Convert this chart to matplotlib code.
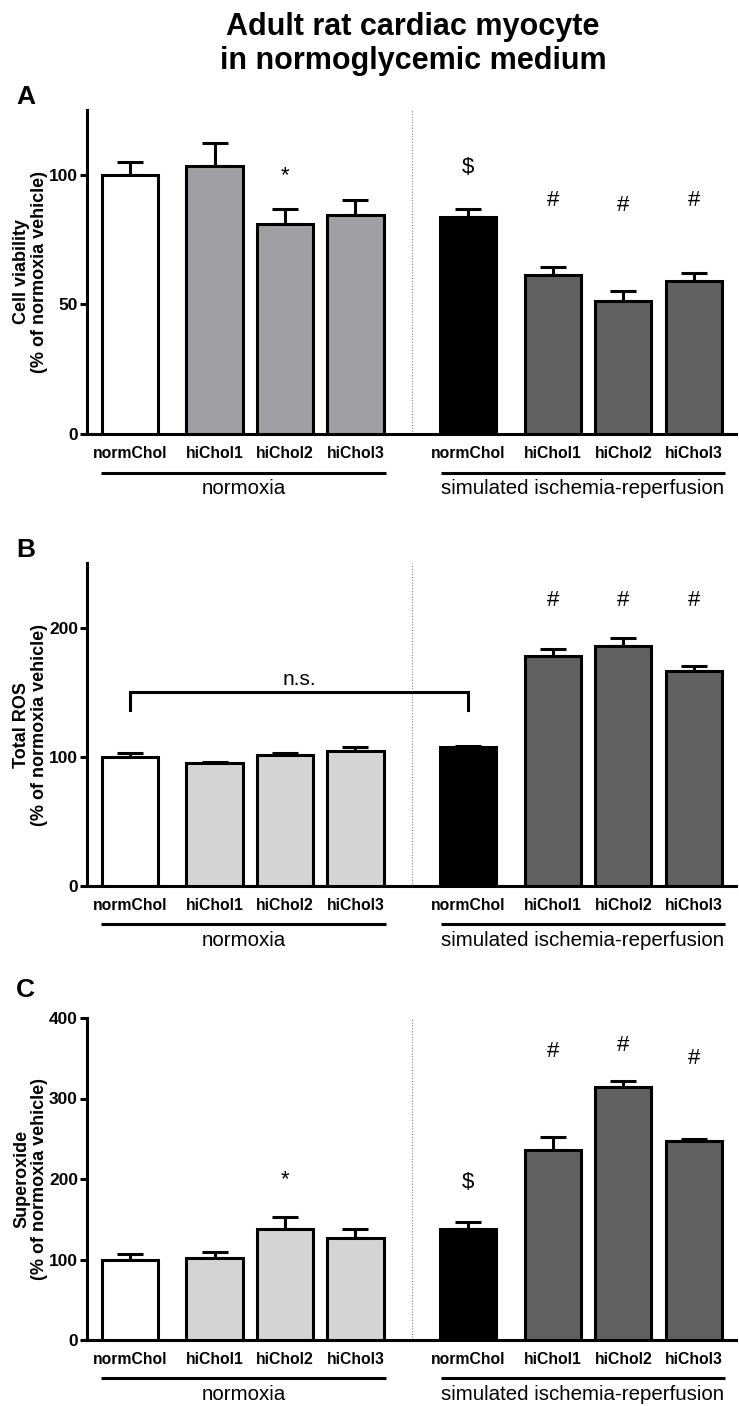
import matplotlib
matplotlib.use("Agg")
import matplotlib.pyplot as plt
import matplotlib.transforms as mtransforms

plt.rcParams['font.family'] = ['Liberation Sans', 'DejaVu Sans']

# ---------------- data ----------------
categories = ['normChol', 'hiChol1', 'hiChol2', 'hiChol3',
              'normChol', 'hiChol1', 'hiChol2', 'hiChol3']
groups = ['normoxia', 'simulated ischemia-reperfusion']

viability = [100, 103.5, 81, 84.5, 83.7, 61.2, 51.2, 59]
viability_err = [5, 8.9, 5.8, 5.9, 3.1, 3.1, 3.8, 3.0]

ros = [100, 95.3, 101.5, 104.6, 107.2, 177.8, 185.5, 166.7]
ros_err = [3, 0.4, 1.5, 3.1, 0.8, 6.0, 6.5, 3.8]

superoxide = [100, 102, 138, 127, 138, 236, 314, 247]
superoxide_err = [6.6, 7, 15, 11, 8.6, 16, 8, 3]

annot_A = [(2, '*', 99.6), (4, '$', 102.7), (5, '#', 90), (6, '#', 88), (7, '#', 90)]
annot_B = [(5, '#', 221), (6, '#', 221), (7, '#', 221)]
annot_C = [(2, '*', 199), (4, '$', 196), (5, '#', 358), (6, '#', 366), (7, '#', 350)]

# ---------------- layout/style ----------------
positions = [0, 1.2, 2.2, 3.2, 4.8, 6.0, 7.0, 8.0]
bar_w = 0.8

W, H = 739, 1406
fig = plt.figure(figsize=(W / 100, H / 100), dpi=100)

def fig_rect(left_px, right_px, top_px, bottom_px):
    return [left_px / W, 1 - bottom_px / H, (right_px - left_px) / W, (bottom_px - top_px) / H]

panels = [
    dict(letter='A', rect=fig_rect(87, 736, 110, 434), vals=viability, err=viability_err,
         ylim=(0, 125), yticks=[0, 50, 100], ylabel='Cell viability\n(% of normoxia vehicle)',
         colors=['white', '#a0a0a4', '#a0a0a4', '#a0a0a4', 'black', '#606060', '#606060', '#606060'],
         annot=annot_A, letter_y=97),
    dict(letter='B', rect=fig_rect(87, 736, 563, 886), vals=ros, err=ros_err,
         ylim=(0, 250), yticks=[0, 100, 200], ylabel='Total ROS\n(% of normoxia vehicle)',
         colors=['white', '#d4d4d4', '#d4d4d4', '#d4d4d4', 'black', '#606060', '#606060', '#606060'],
         annot=annot_B, letter_y=550),
    dict(letter='C', rect=fig_rect(87, 736, 1018, 1340), vals=superoxide, err=superoxide_err,
         ylim=(0, 400), yticks=[0, 100, 200, 300, 400], ylabel='Superoxide\n(% of normoxia vehicle)',
         colors=['white', '#d4d4d4', '#d4d4d4', '#d4d4d4', 'black', '#606060', '#606060', '#606060'],
         annot=annot_C, letter_y=990),
]

LW = 2.2

for p in panels:
    ax = fig.add_axes(p['rect'])
    ax.bar(positions, p['vals'], width=bar_w, color=p['colors'], edgecolor='black',
           linewidth=LW, zorder=3)
    ax.errorbar(positions, p['vals'], yerr=[[0] * len(p['err']), p['err']], fmt='none',
                ecolor='black', elinewidth=LW, capsize=9.5, capthick=LW, zorder=2)
    ax.set_xlim(-0.61, 8.6)
    ax.set_ylim(*p['ylim'])
    ax.set_yticks(p['yticks'])
    ax.set_xticks(positions)
    ax.set_xticklabels(categories, fontsize=11.3, fontweight='bold')
    for s in ['top', 'right']:
        ax.spines[s].set_visible(False)
    for s in ['left', 'bottom']:
        ax.spines[s].set_linewidth(LW)
    ax.tick_params(axis='x', length=0, pad=9)
    ax.tick_params(axis='y', length=5, width=LW, labelsize=12.5, pad=1.5)
    for lab in ax.get_yticklabels():
        lab.set_fontweight('bold')
    ax.set_ylabel(p['ylabel'], fontsize=13, fontweight='bold', labelpad=0.5, linespacing=1.1)
    # dotted separator
    ax.axvline(4.0, color='#888888', linestyle=(0, (1, 1.5)), linewidth=0.8, zorder=1)
    # group lines and labels
    trans = mtransforms.blended_transform_factory(ax.transData, ax.transAxes)
    for (x0, x1), g in zip([(-0.41, 3.63), (4.41, 8.44)], groups):
        ax.plot([x0, x1], [-0.119, -0.119], color='black', linewidth=LW, transform=trans,
                clip_on=False, solid_capstyle='butt')
        ax.text((x0 + x1) / 2, -0.168, g, transform=trans, ha='center', va='center',
                fontsize=14.8)
    # annotations
    for idx, sym, yv in p['annot']:
        ax.text(positions[idx], yv, sym, ha='center', va='center', fontsize=16)
    fig.text(16 / W, 1 - p['letter_y'] / H, p['letter'], fontsize=19, fontweight='bold',
             ha='left', va='center')
    if p['letter'] == 'B':
        xa, xb = positions[0], positions[4]
        ax.plot([xa, xa, xb, xb], [136, 150, 150, 136], color='black', linewidth=LW,
                solid_joinstyle='miter', zorder=4)
        ax.text((xa + xb) / 2, 160, 'n.s.', ha='center', va='center', fontsize=15)

fig.text(413 / W, 1 - 44 / H, 'Adult rat cardiac myocyte\nin normoglycemic medium',
         ha='center', va='center', fontsize=22, fontweight='bold', linespacing=1.2)

fig.savefig('out.png', dpi=100)
